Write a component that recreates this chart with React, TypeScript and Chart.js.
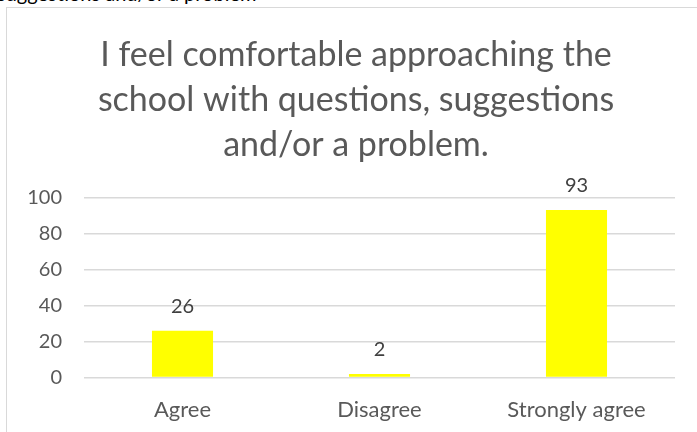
import React, { useEffect, useRef } from "react";
import { Chart, registerables } from "chart.js";

Chart.register(...registerables);

const categories = ["Agree", "Disagree", "Strongly agree"];
const counts = [26, 2, 93];
const titleLines = [
  "I feel comfortable approaching the",
  "school with questions, suggestions",
  "and/or a problem.",
];
const yTicks = [0, 20, 40, 60, 80, 100];

const FONT = "Lato, 'Open Sans', sans-serif";
const TEXT = "#595959";

const valueLabels = {
  id: "valueLabels",
  afterLayout(chart: any) {
    const t = chart.titleBlock;
    if (t) {
      t.left = 0;
      t.right = chart.width;
      t.width = chart.width;
    }
  },
  afterDatasetsDraw(chart: any) {
    const ctx = chart.ctx;
    const meta = chart.getDatasetMeta(0);
    ctx.save();
    ctx.font = `20px ${FONT}`;
    ctx.fillStyle = "#404040";
    ctx.textAlign = "center";
    ctx.textBaseline = "alphabetic";
    meta.data.forEach((bar: any, i: number) => {
      ctx.fillText(String(counts[i]), bar.x, bar.y - 18);
    });
    ctx.restore();
  },
};

export default function App() {
  const ref = useRef<HTMLCanvasElement>(null);
  useEffect(() => {
    if (!ref.current) return;
    const chart = new Chart(ref.current, {
      type: "bar",
      data: {
        labels: categories,
        datasets: [
          {
            data: counts,
            backgroundColor: "#FFFF00",
            borderWidth: 0,
            categoryPercentage: 1,
            barPercentage: 0.31,
          },
        ],
      },
      options: {
        animation: false,
        responsive: false,
        layout: { padding: { left: 0, right: 30, top: 0, bottom: 0 } },
        plugins: {
          legend: { display: false },
          tooltip: { enabled: false },
          title: {
            display: true,
            text: titleLines,
            color: TEXT,
            font: { family: FONT, size: 34, weight: "normal", lineHeight: 45 / 34 },
            padding: { top: 24.5, bottom: 30 },
          },
        },
        scales: {
          x: {
            grid: { display: false, drawTicks: false },
            border: { display: false },
            ticks: { color: TEXT, font: { family: FONT, size: 22 }, padding: 19 },
            afterFit: (s: any) => {
              s.height = 54.5;
            },
          },
          y: {
            min: 0,
            max: 100,
            afterBuildTicks: (s: any) => {
              s.ticks = yTicks.map((v) => ({ value: v }));
            },
            grid: { color: "#d9d9d9", lineWidth: 1.5, drawTicks: false },
            border: { display: false },
            ticks: { color: TEXT, font: { family: FONT, size: 20 }, padding: 22 },
            afterFit: (s: any) => {
              s.width = 77;
            },
          },
        },
      },
      plugins: [valueLabels],
    });
    return () => chart.destroy();
  }, []);

  return (
    <div
      style={{
        position: "fixed",
        left: 0,
        top: 0,
        width: 697,
        height: 432,
        overflow: "hidden",
        background: "#fff",
      }}
    >
      <div
        style={{
          position: "absolute",
          left: -3,
          top: -19,
          fontFamily: FONT,
          fontSize: 20,
          lineHeight: "24px",
          color: "#000",
          whiteSpace: "nowrap",
        }}
      >
        suggestions and/or a problem
      </div>
      <div
        style={{
          position: "absolute",
          left: 6,
          top: 7,
          width: 720,
          height: 450,
          border: "1px solid #d9d9d9",
          boxSizing: "border-box",
          background: "#fff",
        }}
      />
      <canvas
        ref={ref}
        width={698}
        height={424}
        style={{ position: "absolute", left: 7, top: 8, width: 698, height: 424 }}
      />
    </div>
  );
}
